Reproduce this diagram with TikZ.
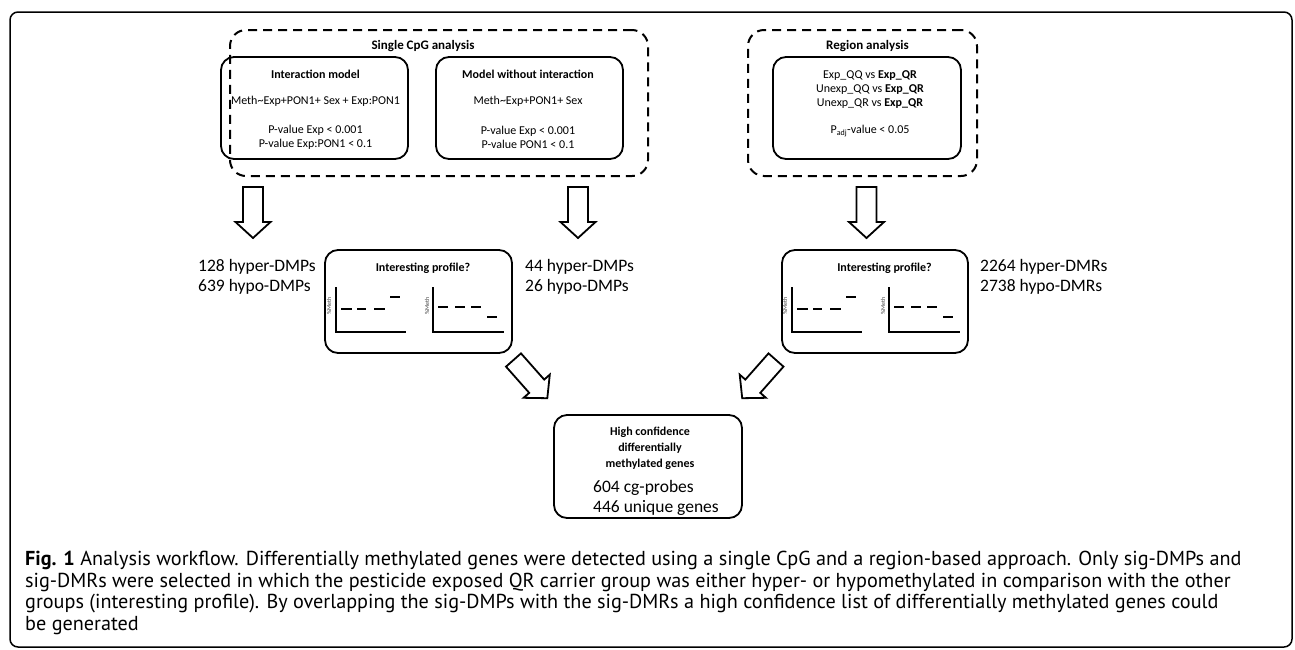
\documentclass[tikz,border=0pt]{standalone}
\usepackage{fontspec}
\setmainfont{Carlito}
\newfontfamily\capfont{PT Sans}
\usetikzlibrary{calc}
\begin{document}
\begin{tikzpicture}[x=1pt,y=-1pt,
  dashbox/.style={draw, line width=2pt, dash pattern=on 9pt off 6pt, rounded corners=16pt, inner sep=0pt},
  solidbox/.style={draw, line width=1.8pt, rounded corners=13pt, inner sep=0pt, minimum width=187pt, minimum height=102pt},
  txt/.style={font=\fontsize{12}{14}\selectfont, align=center, inner sep=0pt},
  ttl/.style={font=\fontsize{12}{14}\selectfont\bfseries, align=center, inner sep=0pt},
  big/.style={font=\fontsize{17.5}{20}\selectfont, align=left, inner sep=0pt, anchor=base west},
  captxt/.style={font=\capfont\fontsize{20.2}{22}\selectfont, inner sep=0pt, anchor=base west},
  ylab/.style={font=\fontsize{6}{7}\selectfont, text=black!75, rotate=90, inner sep=0pt},
  blockarrow/.pic={\draw[line width=1.8pt, fill=white, line join=miter]
     (-10,0) -- (-10,35) -- (-17.5,35) -- (0,51) -- (17.5,35) -- (10,35) -- (10,0) -- cycle;},
  profiles/.pic={
     \draw[line width=1.8pt] (12,38) -- (12,83) -- (82,83);
     \draw[line width=2.4pt] (17,60) -- (28,60) (33,60) -- (42,60) (50,60) -- (61,60) (66,48) -- (76,48);
     \node[ylab] at (5,57) {\%Meth};
     \draw[line width=1.8pt] (109,38) -- (109,83) -- (180,83);
     \draw[line width=2.4pt] (114,58) -- (124,58) (131,58) -- (141,58) (147,58) -- (157,58) (163,68) -- (173,68);
     \node[ylab] at (103,57) {\%Meth};
  }]
\useasboundingbox (0,0) rectangle (1295,649);
% outer frame
\draw[line width=1.5pt, rounded corners=8pt] (10,12) rectangle (1292,647);

% Single CpG analysis
\node[dashbox, minimum width=418pt, minimum height=146pt] (single) at (439,103) {};
\node[ttl, font=\fontsize{13}{15}\selectfont\bfseries] (singlet) at (423,46) {Single CpG analysis};
\node[solidbox] (inter) at (314.5,108) {};
\node[ttl] (intert) at (315.5,74) {Interaction model};
\node[txt] (interf) at (315.5,101) {Meth\textasciitilde Exp+PON1+ Sex + Exp:PON1};
\node[txt] (interp) at (315.5,137) {P-value Exp < 0.001\\P-value Exp:PON1 < 0.1};
\node[solidbox] (noint) at (529.5,108) {};
\node[ttl] (nointt) at (528,74) {Model without interaction};
\node[txt] (nointf) at (528,101) {Meth\textasciitilde Exp+PON1+ Sex};
\node[txt] (nointp) at (528,137) {P-value Exp < 0.001\\P-value PON1 < 0.1};

% Region analysis
\node[dashbox, minimum width=229pt, minimum height=146pt] (region) at (862.5,103) {};
\node[ttl, font=\fontsize{13}{15}\selectfont\bfseries] (regiont) at (867.5,46) {Region analysis};
\node[solidbox, minimum width=188pt] (regin) at (867,108) {};
\node[txt] (regc) at (870,90) {Exp\_QQ vs \textbf{Exp\_QR}\\Unexp\_QQ vs \textbf{Exp\_QR}\\Unexp\_QR vs \textbf{Exp\_QR}};
\node[txt] (regp) at (870,131) {P\textsubscript{adj}-value < 0.05};

% vertical block arrows
\coordinate (a1) at (253,187);
\coordinate (a2) at (578,187);
\coordinate (a3) at (866.5,187);
\pic at (a1) {blockarrow};
\pic at (a2) {blockarrow};
\pic at (a3) {blockarrow};

% counts (anchor = baseline of last line)
\node[big] (c1) at (198,291) {128 hyper-DMPs\\639 hypo-DMPs};
\node[big] (c2) at (525,291) {44 hyper-DMPs\\26 hypo-DMPs};
\node[big] (c3) at (980,291) {2264 hyper-DMRs\\2738 hypo-DMRs};

% interesting profile boxes
\node[solidbox, minimum height=103pt] (prof1) at (418.5,301.5) {};
\node[ttl] (prof1t) at (423,268) {Interesting profile?};
\pic at (prof1.north west) {profiles};
\node[solidbox, minimum height=103pt, minimum width=186pt] (prof2) at (875,301.5) {};
\node[ttl] (prof2t) at (884.5,268) {Interesting profile?};
\pic at ($(prof2.north west)+(-1,0)$) {profiles};

% diagonal arrows
\coordinate (d1) at (513.5,360);
\coordinate (d2) at (776,360);
\pic[rotate=41.5] at (d1) {blockarrow};
\pic[rotate=-41.5] at (d2) {blockarrow};

% high confidence
\node[solidbox, minimum width=188pt, minimum height=103pt] (high) at (648,466.5) {};
\node[ttl, font=\fontsize{12}{16}\selectfont\bfseries] (hight) at (650,448) {High confidence\\differentially\\methylated genes};
\node[big] (highc) at (593,512) {604 cg-probes\\446 unique genes};

% caption
\node[captxt] (cap1) at (25,565) {\textbf{Fig. 1} Analysis workflow. Differentially methylated genes were detected using a single CpG and a region-based approach. Only sig-DMPs and};
\node[captxt] (cap2) at (25,587) {sig-DMRs were selected in which the pesticide exposed QR carrier group was either hyper- or hypomethylated in comparison with the other};
\node[captxt] (cap3) at (25,608) {groups (interesting profile). By overlapping the sig-DMPs with the sig-DMRs a high confidence list of differentially methylated genes could};
\node[captxt] (cap4) at (25,630) {be generated};
\end{tikzpicture}
\end{document}
